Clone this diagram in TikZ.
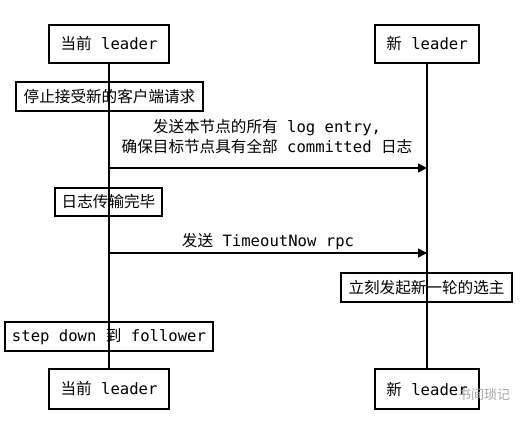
\documentclass[tikz,border=0pt]{standalone}
\usepackage{fontspec}
\setmainfont{DejaVu Sans Mono}
\newfontfamily\cjk{Noto Sans CJK SC}
\usetikzlibrary{arrows.meta}
\newcommand\zh[1]{{\cjk #1}}
\begin{document}
\begin{tikzpicture}[x=1pt,y=-1pt,
  every node/.style={font=\fontsize{15.6}{20}\selectfont, inner sep=0pt},
  box/.style={draw, line width=1.6pt, minimum height=29pt},
  life/.style={line width=1.6pt},
  msg/.style={line width=1.6pt, -{Triangle[length=9pt,width=9pt]}},
  lbl/.style={align=center}]
\useasboundingbox[fill=white] (0,0) rectangle (524,420);
% actor boxes
\node[box, minimum width=120pt, minimum height=38pt] (tl) at (109,44) {\zh{当前} leader};
\node[box, minimum width=104pt, minimum height=38pt] (tr) at (427,44) {\zh{新} leader};
\node[box, minimum width=120pt, minimum height=40pt] (bl) at (109,389) {\zh{当前} leader};
\node[box, minimum width=104pt, minimum height=40pt] (br) at (427,389) {\zh{新} leader};
% step boxes
\node[box, minimum width=187pt] (stop) at (109.5,96.5) {\zh{停止接受新的客户端请求}};
\node[box, minimum width=107pt, minimum height=28pt] (done) at (108.5,202) {\zh{日志传输完毕}};
\node[box, minimum width=171pt] (elect) at (426.5,287.5) {\zh{立刻发起新一轮的选主}};
\node[box, minimum width=208pt] (down) at (109,336.5) {step down \zh{到} follower};
% lifelines
\draw[life] (tl.south) -- (bl.north);
\draw[life] (tr.south) -- (br.north);
% messages
\coordinate (m1s) at (109,168);
\coordinate (m1e) at (427,168);
\coordinate (m2s) at (109,253);
\coordinate (m2e) at (427,253);
\draw[msg] (m1s) -- (m1e);
\draw[msg] (m2s) -- (m2e);
\node[lbl] (l1) at (267,136.5) {\zh{发送本节点的所有} log entry,\\[0pt]\zh{确保目标节点具有全部} committed \zh{日志}};
\node[lbl] (l2) at (268,242) {\zh{发送} TimeoutNow rpc};
% watermark
\node[text=black!35, font=\cjk\fontsize{13}{15}\selectfont] (wm) at (484,395) {书间琐记};
\end{tikzpicture}
\end{document}
